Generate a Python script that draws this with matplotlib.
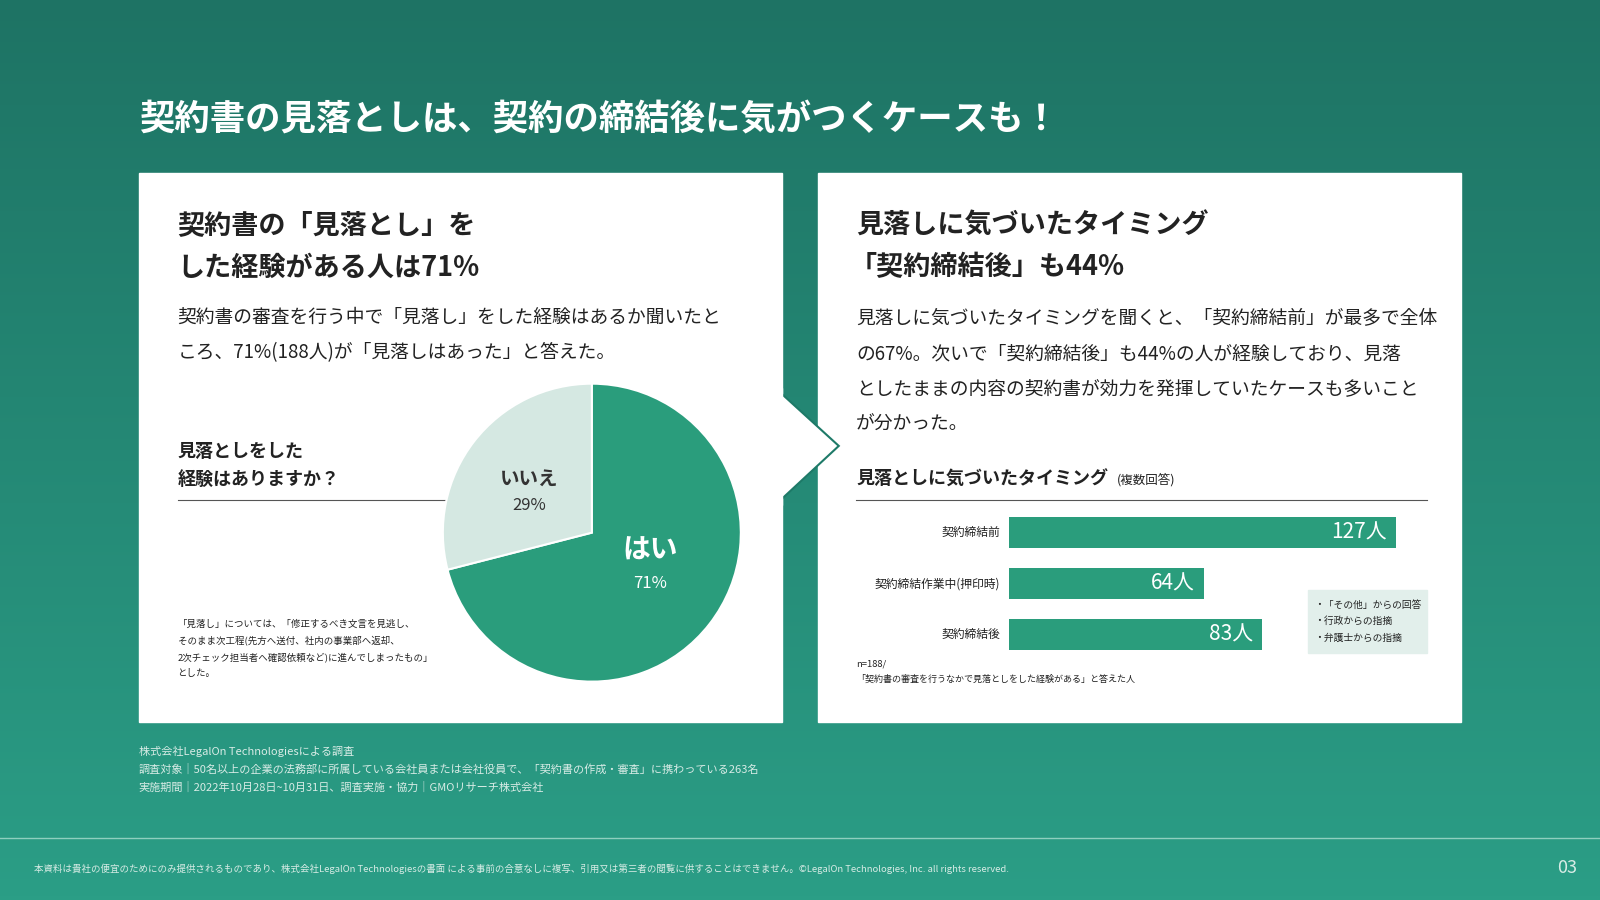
import matplotlib.pyplot as plt
from matplotlib.patches import Rectangle, Polygon
import numpy as np

plt.rcParams["font.family"] = "Noto Sans CJK JP"

# data
pie_labels = ["はい", "いいえ"]
pie_values = [71, 29]
bar_labels = ["契約締結前", "契約締結作業中(押印時)", "契約締結後"]
bar_values = [127, 64, 83]

GREEN = "#2a9d7c"
PALE = "#d5e8e2"
W, H = 1568, 882

fig = plt.figure(figsize=(16, 9), dpi=100)
bg = fig.add_axes([0, 0, 1, 1])
bg.set_xlim(0, W)
bg.set_ylim(H, 0)
bg.axis("off")

grad = np.linspace(0, 1, 256).reshape(-1, 1)
c1 = np.array([0x1e, 0x73, 0x64]) / 255
c2 = np.array([0x2b, 0x9e, 0x86]) / 255
img = c1 + (c2 - c1) * grad[..., None]
bg.imshow(np.repeat(img, 2, axis=1), extent=[0, W, H, 0], aspect="auto", zorder=0)

bg.text(136, 118, "契約書の見落としは、契約の締結後に気がつくケースも！", color="white",
        fontsize=25.5, fontweight="bold", va="center")

# panels
for x0 in (136, 802):
    bg.add_patch(Rectangle((x0, 170), 630, 538, color="white", zorder=1))
bg.add_patch(Polygon([(765, 385), (822, 437), (765, 490)], closed=True,
                     facecolor="white", edgecolor="#1e7a68", lw=1.5, zorder=2))
bg.add_patch(Rectangle((760, 380), 6, 115, color="white", zorder=3))

def txt(x, y, s, **kw):
    kw.setdefault("color", "#222222")
    bg.text(x, y, s, va="center", zorder=5, **kw)

# left panel text
txt(174, 221, "契約書の「見落とし」を", fontsize=19.5, fontweight="bold")
txt(174, 262, "した経験がある人は71%", fontsize=19.5, fontweight="bold")
txt(174, 311, "契約書の審査を行う中で「見落し」をした経験はあるか聞いたと", fontsize=13.5)
txt(174, 346, "ころ、71%(188人)が「見落しはあった」と答えた。", fontsize=13.5)
txt(174, 442, "見落としをした", fontsize=13, fontweight="bold")
txt(174, 470, "経験はありますか？", fontsize=13, fontweight="bold")
bg.plot([174, 440], [490, 490], color="#555555", lw=0.8, zorder=5)
for i, s in enumerate(["「見落し」については、「修正するべき文言を見逃し、",
                       "そのまま次工程(先方へ送付、社内の事業部へ返却、",
                       "2次チェック担当者へ確認依頼など)に進んでしまったもの」",
                       "とした。"]):
    txt(174, 612 + i * 16, s, fontsize=6.8)

# pie
pax = fig.add_axes([(580 - 146) / W, 1 - (522 + 146) / H, 292 / W, 292 / H])
pax.pie(pie_values, colors=[GREEN, PALE], startangle=90, counterclock=False,
        radius=1, wedgeprops=dict(edgecolor="white", linewidth=1.5))
pax.set_xlim(-1, 1)
pax.set_ylim(-1, 1)
pax.set_aspect("equal")
pax.text(0.39, -0.12, pie_labels[0], fontsize=20, fontweight="bold", color="white",
         ha="center", va="center")
pax.text(0.39, -0.34, f"{pie_values[0]}%", fontsize=12, color="white", ha="center", va="center")
pax.text(-0.42, 0.36, pie_labels[1], fontsize=14, fontweight="bold", color="#333333",
         ha="center", va="center")
pax.text(-0.42, 0.18, f"{pie_values[1]}%", fontsize=12, color="#333333", ha="center", va="center")

# right panel text
txt(839, 221, "見落しに気づいたタイミング", fontsize=19.5, fontweight="bold")
txt(833, 262, "「契約締結後」も44%", fontsize=19.5, fontweight="bold")
for i, s in enumerate(["見落しに気づいたタイミングを聞くと、「契約締結前」が最多で全体",
                       "の67%。次いで「契約締結後」も44%の人が経験しており、見落",
                       "としたままの内容の契約書が効力を発揮していたケースも多いこと",
                       "が分かった。"]):
    txt(839, 312 + i * 34.5, s, fontsize=13.5)
txt(839, 470, "見落としに気づいたタイミング", fontsize=13, fontweight="bold")
txt(1095, 470, "(複数回答)", fontsize=9)
bg.plot([839, 1398], [490, 490], color="#555555", lw=0.8, zorder=5)

# bars
bax = fig.add_axes([989 / W, 1 - 647 / H, (1368 - 989) / W, 150 / H])
ypos = np.arange(len(bar_values))
bax.barh(ypos, bar_values, height=0.6, color=GREEN)
bax.set_xlim(0, 127)
bax.set_ylim(2.5, -0.5)
bax.axis("off")
for y, v, lab in zip(ypos, bar_values, bar_labels):
    bax.text(v - 3, y, f"{v}人", color="white", fontsize=15, ha="right", va="center")
    bax.text(-3, y, lab, color="#222222", fontsize=8.5, ha="right", va="center")

bg.add_patch(Rectangle((1282, 578), 116, 62, color="#e2efeb", zorder=4))
for i, s in enumerate(["・「その他」からの回答", "・行政からの指摘", "・弁護士からの指摘"]):
    txt(1288, 593 + i * 16, s, fontsize=7)
txt(839, 651, "n=188/", fontsize=6.8)
txt(839, 666, "「契約書の審査を行うなかで見落としをした経験がある」と答えた人", fontsize=6.5)

# footer
for i, s in enumerate(["株式会社LegalOn Technologiesによる調査",
                       "調査対象｜50名以上の企業の法務部に所属している会社員または会社役員で、「契約書の作成・審査」に携わっている263名",
                       "実施期間｜2022年10月28日~10月31日、調査実施・協力｜GMOリサーチ株式会社"]):
    txt(136, 736 + i * 18, s, fontsize=8, color="#d8ece6")
bg.plot([0, W], [821, 821], color="#8fcfbf", lw=1, zorder=5)
txt(33, 851, "本資料は貴社の便宜のためにのみ提供されるものであり、株式会社LegalOn Technologiesの書面 による事前の合意なしに複写、引用又は第三者の閲覧に供することはできません。©LegalOn Technologies, Inc. all rights reserved.",
    fontsize=6.8, color="#d8ece6")
txt(1546, 851, "03", fontsize=13, color="#d8ece6", ha="right")

fig.savefig("out.png", dpi=100)
